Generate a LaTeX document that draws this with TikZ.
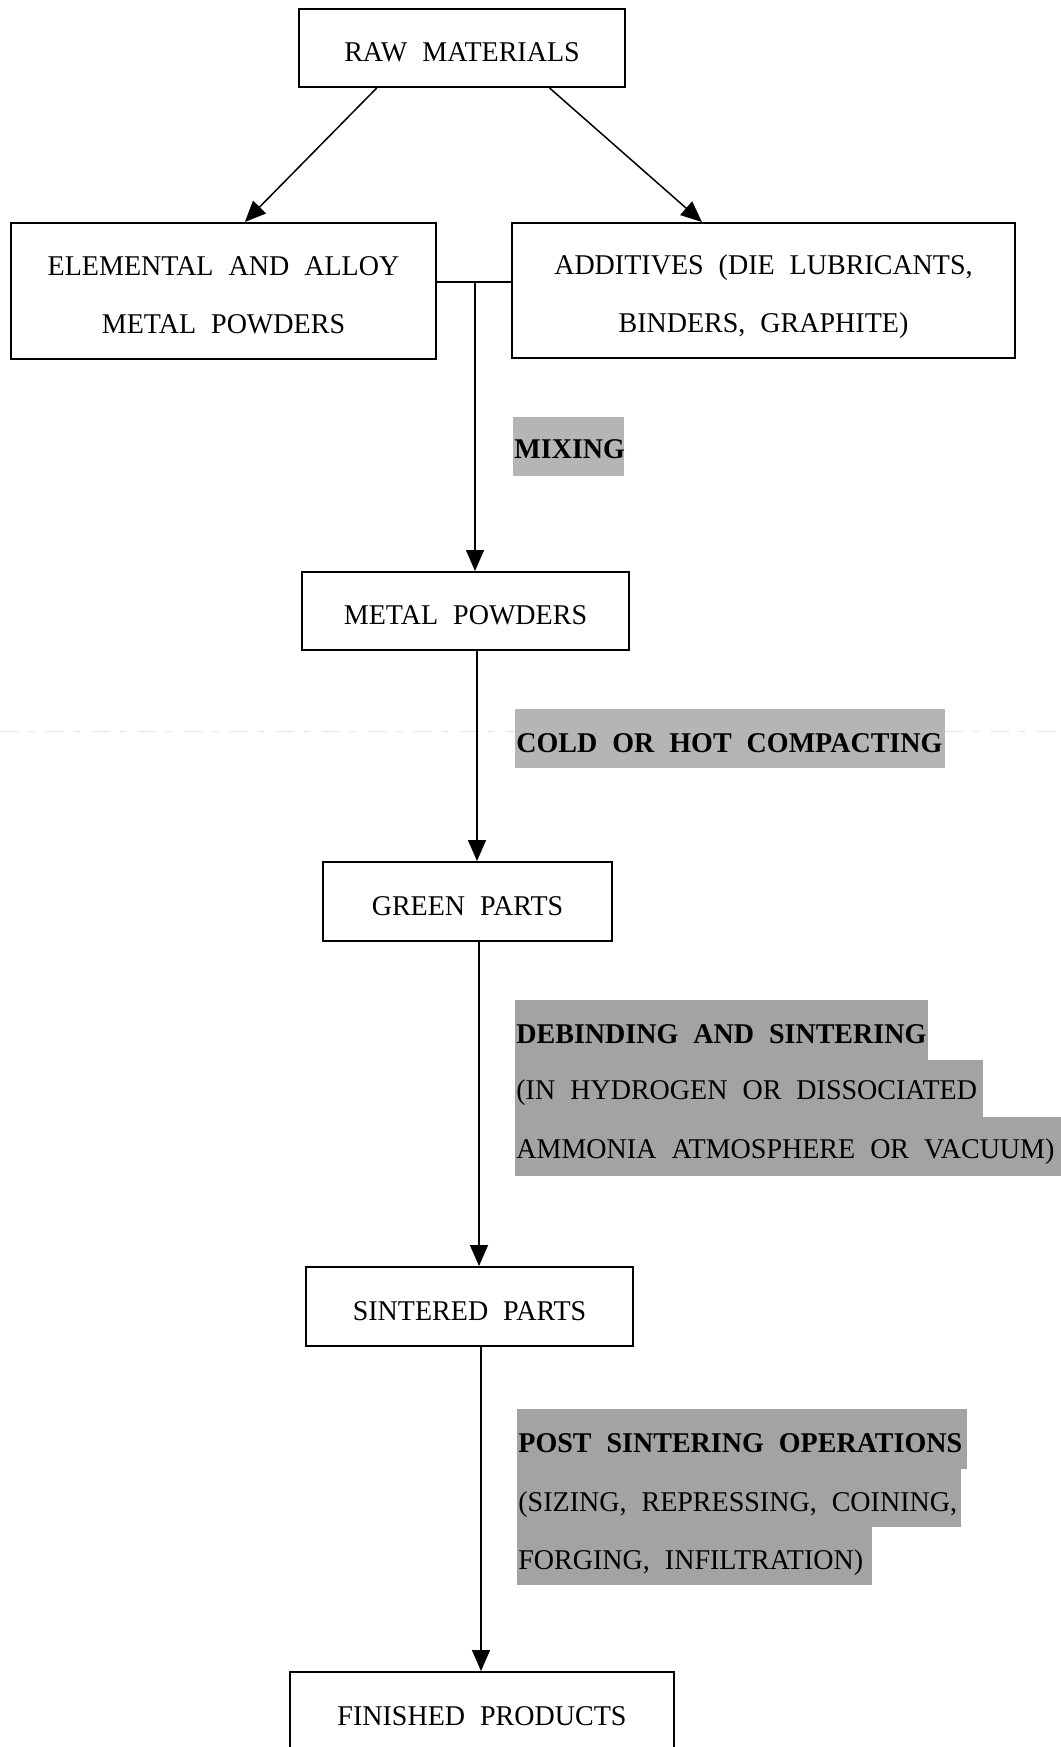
\documentclass[tikz,border=0pt]{standalone}
\usepackage{fontspec}
\setmainfont{Liberation Serif}[FakeStretch=0.98]
\usetikzlibrary{arrows.meta,calc}
\newcommand\dgfont{\fontsize{14.3pt}{29pt}\selectfont\spaceskip=7.5pt plus 2pt minus 1pt\relax}
\newcommand\twolines[2]{\raisebox{-0.9pt}[\height][\depth]{\begin{tabular}{@{}c@{}}#1\\#2\end{tabular}}}
\definecolor{shadeA}{gray}{0.71}
\definecolor{shadeB}{gray}{0.64}
\begin{document}
\begin{tikzpicture}[x=0.5pt,y=-0.5pt,
  box/.style={draw, line width=1pt, rectangle, inner sep=0pt, font=\dgfont, align=center},
  onel/.style={text height=13.5pt, text depth=0pt},
  conn/.style={line width=0.75pt},
  arr/.style={conn, -{Triangle[length=10.5pt,width=9pt]}},
  lab/.style={anchor=base west, inner sep=0pt, font=\dgfont},
  blab/.style={lab, font=\dgfont\bfseries}]
\useasboundingbox (0,0) rectangle (1061,1747);
\clip (0,0) rectangle (1061,1747);
\fill[white] (0,0) rectangle (1061,1747);

% boxes
\node[box, onel, minimum width=163pt, minimum height=39pt] (raw) at (462,48) {RAW MATERIALS};
\node[box, minimum width=212.5pt, minimum height=68pt] (elem) at (223.5,291) {\twolines{ELEMENTAL AND ALLOY}{METAL POWDERS}};
\node[box, minimum width=251.5pt, minimum height=67.5pt] (add) at (763.5,290.5) {\twolines{ADDITIVES (DIE LUBRICANTS,}{BINDERS, GRAPHITE)}};
\node[box, onel, minimum width=163.5pt, minimum height=39pt] (metal) at (465.5,611) {METAL POWDERS};
\node[box, onel, minimum width=144.5pt, minimum height=39.5pt] (green) at (467.5,901.5) {GREEN PARTS};
\node[box, onel, minimum width=163.5pt, minimum height=39.5pt] (sint) at (469.5,1306.5) {SINTERED PARTS};
\node[box, onel, minimum width=192pt, minimum height=40pt] (fin) at (482,1712) {FINISHED PRODUCTS};

% faint scan line
\draw[black!10, line width=0.5pt, dash pattern=on 9pt off 5pt on 3pt off 6pt] (0,731) -- (515,731);
\draw[black!10, line width=0.5pt, dash pattern=on 9pt off 5pt on 3pt off 6pt] (945,731) -- (1061,731);

% shaded process labels
\fill[shadeA] (513,417) rectangle (624,476);
\node[blab] (mix) at (514,458) {MIXING};
\fill[shadeA] (515,709) rectangle (945,768);
\node[blab] (comp) at (516,752) {COLD OR HOT COMPACTING};
\fill[shadeB] (515,1000) rectangle (928,1061);
\fill[shadeB] (515,1060) rectangle (983,1118);
\fill[shadeB] (515,1117) rectangle (1070,1176);
\node[blab] (deb1) at (516,1043) {DEBINDING AND SINTERING};
\node[lab] (deb2) at (516,1099) {(IN HYDROGEN OR DISSOCIATED};
\node[lab] (deb3) at (516,1158) {AMMONIA ATMOSPHERE OR VACUUM)};
\fill[shadeB] (517,1409) rectangle (967,1469);
\fill[shadeB] (517,1468) rectangle (961,1527);
\fill[shadeB] (517,1526) rectangle (872,1585);
\node[blab] (post1) at (518,1452) {POST SINTERING OPERATIONS};
\node[lab] (post2) at (518,1511) {(SIZING, REPRESSING, COINING,};
\node[lab] (post3) at (518,1569) {FORGING, INFILTRATION)};

% connectors
\draw[arr] ($(raw.south west)!0.24!(raw.south east)$) -- ($(elem.north west)!0.55!(elem.north east)$);
\draw[arr] ($(raw.south west)!0.767!(raw.south east)$) -- ($(add.north west)!0.378!(add.north east)$);
\coordinate (j) at (475,282);
\draw[conn] (elem.east |- j) -- (add.west |- j);
\draw[arr] (j) -- (metal.north -| j);
\coordinate (l2) at (477,0);
\draw[arr] (metal.south -| l2) -- (green.north -| l2);
\coordinate (l3) at (479,0);
\draw[arr] (green.south -| l3) -- (sint.north -| l3);
\coordinate (l4) at (481,0);
\draw[arr] (sint.south -| l4) -- (fin.north -| l4);
\end{tikzpicture}
\end{document}
